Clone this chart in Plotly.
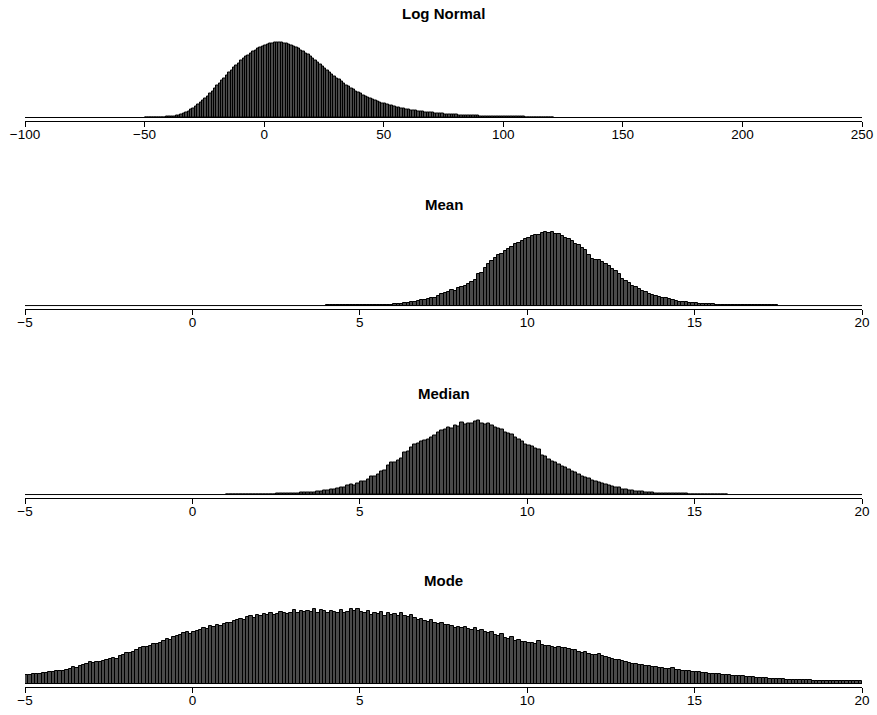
import plotly.graph_objects as go

# ---------------- data (counts per bin) ----------------
titles = ["Log Normal", "Mean", "Median", "Mode"]

# Log Normal: bins of width 1 starting at -50
lognormal_start = -50
lognormal_width = 1
lognormal_counts = [
    2, 3, 5, 8, 12, 17, 23, 30, 40, 55,
    75, 100, 135, 180, 240, 310, 400, 500, 620, 760,
    910, 1080, 1260, 1460, 1680, 1910, 2150, 2400, 2650, 2900,
    3160, 3420, 3680, 3940, 4200, 4460, 4720, 4970, 5210, 5440,
    5660, 5870, 6070, 6250, 6420, 6580, 6730, 6870, 7000, 7110,
    7210, 7300, 7380, 7440, 7480, 7500, 7500, 7480, 7440, 7380,
    7310, 7230, 7130, 7020, 6890, 6750, 6600, 6440, 6270, 6090,
    5900, 5710, 5510, 5310, 5110, 4910, 4710, 4510, 4320, 4130,
    3940, 3760, 3580, 3410, 3240, 3080, 2930, 2780, 2640, 2500,
    2370, 2250, 2130, 2020, 1910, 1810, 1710, 1620, 1530, 1450,
    1370, 1300, 1230, 1160, 1100, 1040, 985, 930, 880, 830,
    785, 745, 705, 665, 630, 595, 565, 535, 505, 478,
    452, 428, 405, 383, 362, 343, 325, 307, 291, 275,
    260, 246, 233, 220, 208, 197, 186, 176, 166, 157,
    148, 140, 132, 125, 118, 111, 105, 99, 93, 88,
    83, 78, 74, 70, 66, 62, 58, 55, 52, 49,
    46, 43, 41, 38, 36, 34, 32, 30, 28, 26, 25,
]

# Mean: bins of width 0.1 starting at 4.0
mean_start = 4.0
mean_width = 0.1
mean_counts = [
    1, 1, 2, 2, 2, 3, 3, 3, 4, 4,
    4, 5, 5, 6, 6, 7, 8, 8, 9, 10,
    13, 16, 19, 23, 28, 33, 40, 47, 54, 60,
    67, 78, 80, 98, 112, 122, 135, 152, 150, 172,
    188, 200, 215, 238, 252, 312, 330, 378, 410, 440,
    478, 500, 518, 548, 565, 585, 612, 628, 640, 660,
    672, 690, 708, 700, 725, 730, 722, 735, 715, 712,
    690, 673, 660, 640, 617, 600, 575, 550, 500, 467,
    455, 450, 433, 415, 395, 367, 350, 320, 267, 250,
    230, 200, 185, 170, 150, 140, 117, 108, 95, 85,
    80, 73, 65, 58, 50, 40, 38, 33, 30, 27,
    22, 20, 18, 15, 13, 11, 10, 9, 8, 7,
    6, 5, 5, 4, 4, 3, 3, 2, 2, 2,
    1, 1, 1, 1, 1,
]

# Median: bins of width 0.1 starting at 1.0
median_start = 1.0
median_width = 0.1
median_counts = [
    1, 1, 1, 1, 2, 2, 2, 3, 3, 3,
    3, 4, 4, 5, 5, 6, 6, 7, 8, 8,
    10, 12, 17, 18, 20, 22, 25, 30, 32, 35,
    40, 47, 52, 60, 70, 72, 85, 97, 92, 110,
    130, 128, 150, 180, 175, 200, 230, 240, 290, 313,
    320, 335, 353, 413, 425, 460, 497, 500, 520, 530,
    545, 560, 580, 610, 630, 640, 663, 655, 680, 670,
    713, 690, 705, 697, 720, 730, 700, 687, 700, 680,
    663, 650, 640, 613, 600, 590, 563, 545, 520, 497,
    480, 470, 453, 440, 380, 370, 350, 330, 315, 300,
    280, 265, 250, 230, 215, 200, 180, 168, 155, 140,
    130, 118, 107, 98, 90, 80, 72, 65, 53, 50,
    42, 38, 33, 30, 27, 22, 20, 17, 15, 13,
    11, 10, 9, 9, 8, 7, 7, 6, 5, 5,
    4, 4, 3, 3, 3, 2, 2, 2, 1, 1,
]

# Mode: bins of width 0.1 starting at -5.0
mode_start = -5.0
mode_width = 0.1
mode_counts = [
    83, 88, 95, 92, 98, 100, 105, 110, 115, 120,
    118, 125, 132, 138, 160, 150, 170, 185, 195, 210,
    200, 215, 210, 225, 230, 245, 250, 240, 270, 280,
    300, 295, 310, 330, 345, 360, 355, 370, 385, 390,
    392, 420, 435, 425, 455, 470, 480, 490, 500, 485,
    505, 515, 520, 540, 530, 560, 550, 575, 560, 580,
    590, 595, 610, 620, 630, 625, 650, 660, 645, 670,
    665, 680, 670, 690, 675, 685, 700, 690, 680, 695,
    720, 690, 710, 700, 715, 705, 730, 695, 720, 710,
    690, 715, 700, 695, 720, 690, 705, 730, 710, 725,
    700, 690, 710, 670, 690, 680, 700, 660, 690, 670,
    680, 660, 690, 660, 650, 670, 640, 620, 630, 610,
    600, 620, 590, 580, 595, 570, 575, 560, 545, 555,
    540, 555, 530, 520, 540, 510, 525, 500, 490, 500,
    480, 470, 485, 450, 440, 460, 420, 430, 405, 410,
    400, 395, 385, 420, 380, 370, 365, 355, 350, 360,
    345, 350, 340, 330, 325, 310, 300, 305, 290, 280,
    275, 290, 270, 260, 250, 240, 230, 235, 220, 215,
    200, 195, 190, 185, 180, 175, 170, 165, 160, 155,
    150, 145, 140, 148, 130, 128, 125, 120, 118, 112,
    110, 108, 105, 100, 98, 95, 92, 90, 88, 85,
    80, 78, 75, 72, 70, 66, 62, 60, 58, 55,
    52, 50, 47, 45, 42, 40, 40, 38, 37, 36,
    35, 34, 33, 32, 30, 29, 28, 27, 27, 26,
    25, 24, 24, 23, 22, 22, 21, 21, 20, 20,
]

lognormal_ticks = [-100, -50, 0, 50, 100, 150, 200, 250]
small_ticks = [-5, 0, 5, 10, 15, 20]

panels = [
    (lognormal_start, lognormal_width, lognormal_counts, lognormal_ticks),
    (mean_start, mean_width, mean_counts, small_ticks),
    (median_start, median_width, median_counts, small_ticks),
    (mode_start, mode_width, mode_counts, small_ticks),
]

# ---------------- layout ----------------
W, H = 877, 715
x_dom = [25 / W, 862 / W]
# (bottom px, top px) of each plot region
regions_px = [(120.5, 39.5), (308.5, 229.0), (497.5, 417.5), (686.5, 606.0)]
title_y_px = [13, 205, 393, 580]

fig = go.Figure()
FONT = "Liberation Sans, Arial, Helvetica, sans-serif"
annotations = []
shapes = []

for i, (start, width, counts, ticks) in enumerate(panels):
    n = i + 1
    xname = "x" if n == 1 else f"x{n}"
    yname = "y" if n == 1 else f"y{n}"
    centers = [start + width * (k + 0.5) for k in range(len(counts))]
    fig.add_trace(go.Bar(
        x=centers, y=counts, width=width,
        marker=dict(color="#4a4a4a", line=dict(color="black", width=1)),
        xaxis=xname, yaxis=yname, showlegend=False, hoverinfo="x+y",
    ))
    m = max(counts)
    bot, top = regions_px[i]
    fig.layout[f"xaxis{'' if n == 1 else n}"] = dict(
        domain=x_dom, anchor=yname, range=[ticks[0], ticks[-1]],
        tickvals=ticks, ticks="outside", ticklen=5, tickwidth=1, tickcolor="black",
        showline=True, linecolor="black", linewidth=1, showgrid=False, zeroline=False,
        tickfont=dict(family=FONT, size=13.5, color="black"), automargin=False,
        ticklabelstandoff=-4,
    )
    fig.layout[f"yaxis{'' if n == 1 else n}"] = dict(
        domain=[1 - bot / H, 1 - top / H], anchor=xname,
        range=[-0.04 * m, 1.04 * m], visible=False, automargin=False,
    )
    # zero-height bins form a baseline across the full histogram range
    shapes.append(dict(type="line", xref=xname, yref=yname,
                       x0=ticks[0], x1=ticks[-1], y0=0, y1=0,
                       line=dict(color="black", width=1)))
    annotations.append(dict(
        text=f"<b>{titles[i]}</b>", xref="paper", yref="paper",
        x=(x_dom[0] + x_dom[1]) / 2, y=1 - title_y_px[i] / H,
        xanchor="center", yanchor="middle", showarrow=False,
        font=dict(family=FONT, size=15, color="black"),
    ))

fig.update_layout(
    width=W, height=H, autosize=False,
    margin=dict(l=0, r=0, t=0, b=0, autoexpand=False),
    paper_bgcolor="white", plot_bgcolor="white",
    bargap=0, barmode="overlay",
    annotations=annotations, shapes=shapes,
)

fig.write_html(
    "out.html",
    config={"displayModeBar": False},
    post_script="document.body.style.margin='0px';document.body.style.overflow='hidden';",
)
